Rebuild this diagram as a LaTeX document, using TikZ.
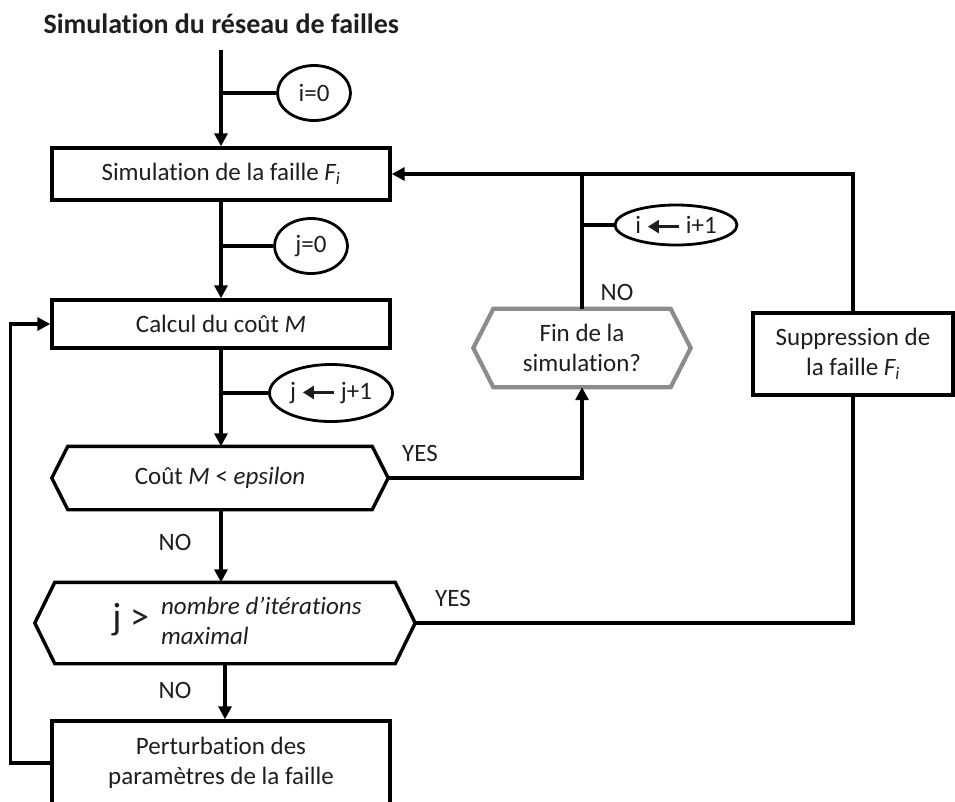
\documentclass[tikz,border=0pt]{standalone}
\usepackage{fontspec}
\setmainfont{Carlito}[RawFeature=-liga]
\usetikzlibrary{arrows.meta,positioning,shapes.geometric,calc}

\definecolor{txt}{RGB}{30,30,30}
\definecolor{endgray}{RGB}{140,140,140}

% small arrow used inside the counters
\newcommand{\larr}{\tikz[baseline={(0,-7pt)}]\draw[line width=2.6pt,-{Triangle[length=11pt,width=13pt]}] (31pt,0) -- (0,0);}
% hexagon drawn round a test node
\newcommand{\hexframe}[3][]{\draw[line width=3.4pt,#1] ([xshift=#3]#2.north west) -- ([xshift=-#3]#2.north east) -- (#2.east) -- ([xshift=-#3]#2.south east) -- ([xshift=#3]#2.south west) -- (#2.west) -- cycle;}

\begin{document}
\begin{tikzpicture}[
	x=1pt, y=-1pt,
	every node/.append style={font=\fontsize{25}{30}\selectfont, text=txt},
	process/.style={
		draw,
		line width=3.4pt,
		align=center,
		inner sep=0pt
	},
	counter/.style={
		ellipse,
		draw,
		line width=2.8pt,
		minimum width=73pt,
		minimum height=55pt,
		inner sep=0pt
	},
	test/.style={
		rectangle,
		align=center,
		inner sep=0pt
	},
	answer/.style={inner sep=0pt},
	flow/.style={line width=3.2pt, -{Triangle[length=13pt,width=13pt]}},
	branch/.style={line width=3.2pt}
	]
	\useasboundingbox (0,0) rectangle (955,801);
	\clip (0,0) rectangle (955,801);

	\node[anchor=base west, font=\fontsize{28}{32}\selectfont\bfseries] (title) at (40,33) {Simulation du réseau de failles};
	\coordinate (start) at (221,50);

	% main column
	\node[process, minimum width=338pt, minimum height=52pt] (simfault) at (221,174) {Simulation de la faille \textit{F\textsubscript{i}}};
	\node[process, minimum width=338pt, minimum height=48pt] (cost) at (221,324) {Calcul du coût \textit{M}};
	\node[test, minimum width=336pt, minimum height=63pt] (converged) at (220,478) {Coût \textit{M} < \textit{epsilon}};
	\node[test, minimum width=380pt, minimum height=81pt] (maxiter) at (225,623) {\hspace*{24pt}{\fontsize{38}{38}\selectfont j >}\hspace{12pt}\begin{tabular}{@{}l@{}}\itshape nombre d’itérations\\ \itshape maximal\end{tabular}};
	\node[process, minimum width=338pt, minimum height=84pt] (perturb) at (221,763) {Perturbation des\\paramètres de la faille};

	% right side
	\node[test, minimum width=217pt, minimum height=78pt] (simend) at (582,348) {Fin de la\\simulation?};
	\node[process, minimum width=200pt, minimum height=82pt] (remove) at (853,354) {Suppression de\\la faille \textit{F\textsubscript{i}}};

	\hexframe{converged}{16pt}
	\hexframe{maxiter}{20pt}
	\hexframe[endgray, line width=4.2pt]{simend}{20pt}

	% counters
	\node[counter] (iinit) at (314,93) {i=0};
	\node[counter] (jinit) at (311,246) {j=0};
	\node[counter, minimum width=123pt, minimum height=57pt] (jinc) at (331,393) {j \larr{} j+1};
	\node[counter, minimum width=122pt, minimum height=40pt] (iinc) at (676,225) {i \larr{} i+1};

	% answers
	\node[answer] (yesconv) at (420,453) {YES};
	\node[answer] (noconv) at (175,542) {NO};
	\node[answer] (yesmax) at (453,598) {YES};
	\node[answer] (nomax) at (175,690) {NO};
	\node[answer] (noend) at (617,292) {NO};

	% connectors
	\draw[flow] (start) -- (simfault.north);
	\draw[branch] (iinit.west) -- (iinit.west -| start);
	\draw[flow] (simfault.south) -- (cost.north);
	\draw[branch] (jinit.west) -- (jinit.west -| cost.north);
	\draw[flow] (cost.south) -- (converged.north -| cost.south);
	\draw[branch] (jinc.west) -- (jinc.west -| cost.south);
	\draw[flow] (converged.south -| cost.south) -- (maxiter.north -| cost.south);
	\draw[flow] (maxiter.south) -- (maxiter.south |- perturb.north);
	\draw[flow] (perturb.west) -- ++(-40,0) |- (cost.west);
	\draw[flow] (converged.east) -| (simend.south);
	\draw[branch] (simend.north) -- (simend.north |- simfault.east);
	\draw[branch] (iinc.west) -- (iinc.west -| simend.north);
	\draw[flow] (remove.north) |- (simfault.east);
	\draw[branch] (maxiter.east) -| (remove.south);
\end{tikzpicture}
\end{document}
